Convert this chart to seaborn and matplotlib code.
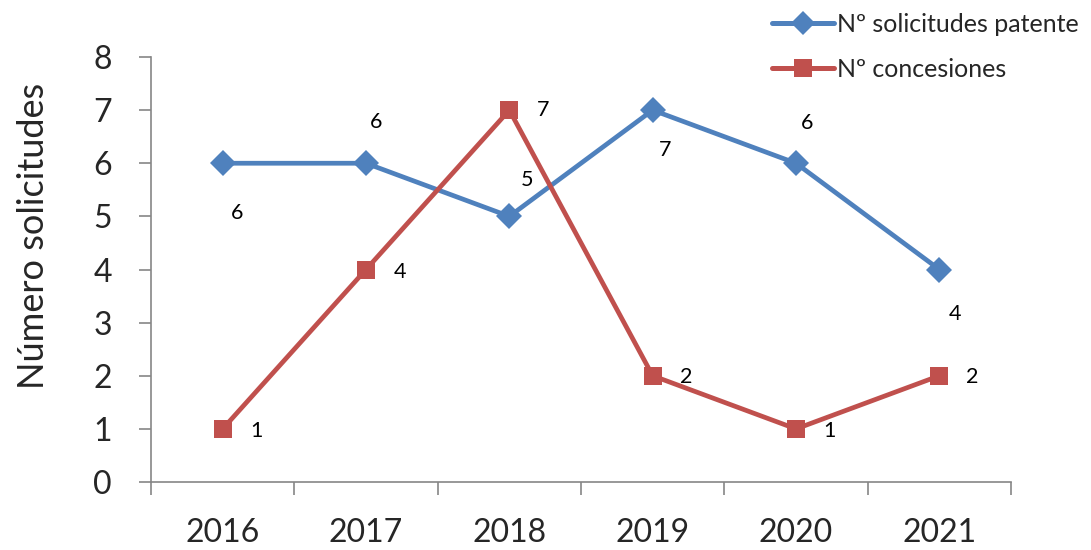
import matplotlib
matplotlib.use("Agg")
import matplotlib.pyplot as plt
import pandas as pd
import seaborn as sns

years = ["2016", "2017", "2018", "2019", "2020", "2021"]
solicitudes = [6, 6, 5, 7, 6, 4]
concesiones = [1, 4, 7, 2, 1, 2]
series_names = ["Nº solicitudes patente", "Nº concesiones"]

# offsets of the value labels (pixels), as placed in the original chart
blue_offsets = [(14, -50), (10, 41), (18, 36), (12, -40), (11, 40), (16, -44)]
red_offsets = [(34, -2), (34, -2), (34, 0), (34, -1), (33, -2), (33, -1)]

sns.set_theme(style="white")
plt.rcParams["font.family"] = ["Lato", "DejaVu Sans"]

df = pd.DataFrame({
    "pos": list(range(len(years))) * 2,
    "valor": solicitudes + concesiones,
    "serie": [series_names[0]] * len(years) + [series_names[1]] * len(years),
})

fig = plt.figure(figsize=(10.91, 5.5), dpi=100)
ax = fig.add_axes([0.1384, 0.1236, 0.7883, 0.7728])

palette = {series_names[0]: "#4F81BD", series_names[1]: "#C0504D"}
markers = {series_names[0]: "D", series_names[1]: "s"}
sns.lineplot(data=df, x="pos", y="valor", hue="serie", style="serie",
             markers=markers, dashes=False, palette=palette, linewidth=3.4,
             markersize=13, markeredgewidth=0, ax=ax, legend=False)

for i, v in enumerate(solicitudes):
    ax.annotate(str(v), (i, v), xytext=blue_offsets[i], textcoords="offset pixels",
                ha="center", va="center", fontsize=15.5, color="black")
for i, v in enumerate(concesiones):
    ax.annotate(str(v), (i, v), xytext=red_offsets[i], textcoords="offset pixels",
                ha="center", va="center", fontsize=15.5, color="black")

ax.set_xlim(-0.5, len(years) - 0.5)
ax.set_ylim(0, 8)
ax.set_yticks(range(0, 9))
ax.set_xticks(range(len(years)))
ax.set_xticklabels(years)
ax.set_xticks([i - 0.5 for i in range(len(years) + 1)], minor=True)
ax.tick_params(axis="x", which="major", length=0, pad=26, labelsize=23)
ax.tick_params(axis="x", which="minor", length=9, width=1.2, color="#868686",
               direction="out", bottom=True)
ax.tick_params(axis="y", length=9, width=1.2, color="#868686", direction="out",
               pad=19, labelsize=23, left=True)
ax.set_xlabel("")
ax.set_ylabel("Número solicitudes", fontsize=26)
ax.yaxis.set_label_coords(-0.117, 0.58)

for side in ["top", "right"]:
    ax.spines[side].set_visible(False)
for side in ["left", "bottom"]:
    ax.spines[side].set_color("#868686")
    ax.spines[side].set_linewidth(1.2)
ax.set_facecolor("none")

handles = [
    plt.Line2D([], [], color="#4F81BD", marker="D", lw=3.6, markersize=12, markeredgewidth=0),
    plt.Line2D([], [], color="#C0504D", marker="s", lw=3.6, markersize=13, markeredgewidth=0),
]
fig.legend(handles, series_names, loc="upper right", bbox_to_anchor=(1.0, 1.0),
           frameon=False, fontsize=18, handlelength=2.5, handletextpad=0.1,
           labelspacing=0.9, borderaxespad=0.2, borderpad=0.3)

fig.savefig("out.png", dpi=100)
